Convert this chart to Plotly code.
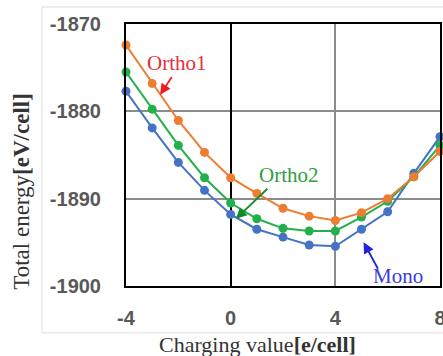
import plotly.graph_objects as go

charging = [-4, -3, -2, -1, 0, 1, 2, 3, 4, 5, 6, 7, 8]
ortho1 = [-1872.4, -1876.8, -1881.05, -1884.7, -1887.6, -1889.4, -1891.1, -1892.0, -1892.5, -1891.6, -1890.0, -1887.5, -1884.6]
ortho2 = [-1875.5, -1879.75, -1883.9, -1887.6, -1890.5, -1892.3, -1893.4, -1893.7, -1893.7, -1892.1, -1890.3, -1887.5, -1883.9]
mono = [-1877.7, -1881.9, -1885.85, -1889.05, -1891.8, -1893.5, -1894.4, -1895.3, -1895.45, -1893.5, -1891.5, -1887.1, -1882.9]
x_ticks = [-4, 0, 4, 8]
y_ticks = [-1900, -1890, -1880, -1870]

ORANGE = "#ED7D31"
GREEN = "#22B04B"
BLUE = "#4472C4"

fig = go.Figure()
for name, vals, col in [("Mono", mono, BLUE), ("Ortho2", ortho2, GREEN), ("Ortho1", ortho1, ORANGE)]:
    fig.add_trace(go.Scatter(x=charging, y=vals, mode="lines+markers", name=name,
                             line=dict(color=col, width=2),
                             marker=dict(color=col, size=9), cliponaxis=False))

tickfont = dict(family="Liberation Sans", size=20, color="#595959", weight="bold")
fig.update_xaxes(range=[-4, 8], tickvals=x_ticks, ticktext=[str(v) for v in x_ticks],
                 showgrid=True, gridcolor="#8c8c8c", gridwidth=1.5,
                 zeroline=True, zerolinecolor="black", zerolinewidth=2,
                 showline=True, mirror=True, linecolor="black", linewidth=2,
                 tickfont=tickfont, ticks="", ticklabelstandoff=13, automargin=False,
                 ticklabeloverflow="allow")
fig.update_yaxes(range=[-1900, -1870], tickvals=y_ticks, ticktext=[str(v) for v in y_ticks],
                 showgrid=True, gridcolor="#8c8c8c", gridwidth=1.5,
                 zeroline=False,
                 showline=True, mirror=True, linecolor="black", linewidth=2,
                 tickfont=tickfont, ticks="", ticklabelstandoff=19, automargin=False,
                 ticklabeloverflow="allow")

serif = "Liberation Serif"
annotations = [
    dict(x=-2.70, y=-1878.1, ax=-2.21, ay=-1875.9, xref="x", yref="y", axref="x", ayref="y",
         text="", showarrow=True, arrowhead=2, arrowsize=1.2, arrowwidth=1.8, arrowcolor="#EE1C25"),
    dict(x=-2.05, y=-1874.5, xref="x", yref="y", text="Ortho1", showarrow=False,
         font=dict(family=serif, size=21, color="#E8303A")),
    dict(x=0.2, y=-1892.3, ax=1.46, ay=-1888.7, xref="x", yref="y", axref="x", ayref="y",
         text="", showarrow=True, arrowhead=2, arrowsize=1.2, arrowwidth=1.8, arrowcolor="#128A2A"),
    dict(x=2.22, y=-1887.3, xref="x", yref="y", text="Ortho2", showarrow=False,
         font=dict(family=serif, size=21, color="#2E9E3E")),
    dict(x=5.08, y=-1895.0, ax=5.66, ay=-1898.2, xref="x", yref="y", axref="x", ayref="y",
         text="", showarrow=True, arrowhead=2, arrowsize=1.2, arrowwidth=1.8, arrowcolor="#2323D8"),
    dict(x=6.38, y=-1898.9, xref="x", yref="y", text="Mono", showarrow=False,
         font=dict(family=serif, size=21, color="#3B3BE0")),
    dict(x=-0.331, y=0.36, xref="paper", yref="paper", xanchor="center", yanchor="middle",
         textangle=-90, text="Total energy<b>[eV/cell]</b>", showarrow=False,
         font=dict(family=serif, size=23, color="#333333")),
    dict(x=0.0987, y=-0.225, xref="paper", yref="paper", xanchor="left", yanchor="middle",
         text="Charging value<b>[e/cell]</b>", showarrow=False,
         font=dict(family=serif, size=22, color="#333333")),
]

fig.update_layout(
    width=443, height=356,
    margin=dict(l=126, r=3, t=24, b=70, autoexpand=False),
    paper_bgcolor="white", plot_bgcolor="white",
    showlegend=False,
    annotations=annotations,
    shapes=[dict(type="rect", xref="paper", yref="paper", x0=-0.2675, x1=1.015, y0=-0.179, y1=1.065,
                 line=dict(color="#dcdcdc", width=1), layer="below")],
)

fig.write_html("out.html", config={"displayModeBar": False},
               post_script="document.body.style.margin='0px';document.body.style.overflow='hidden';")
